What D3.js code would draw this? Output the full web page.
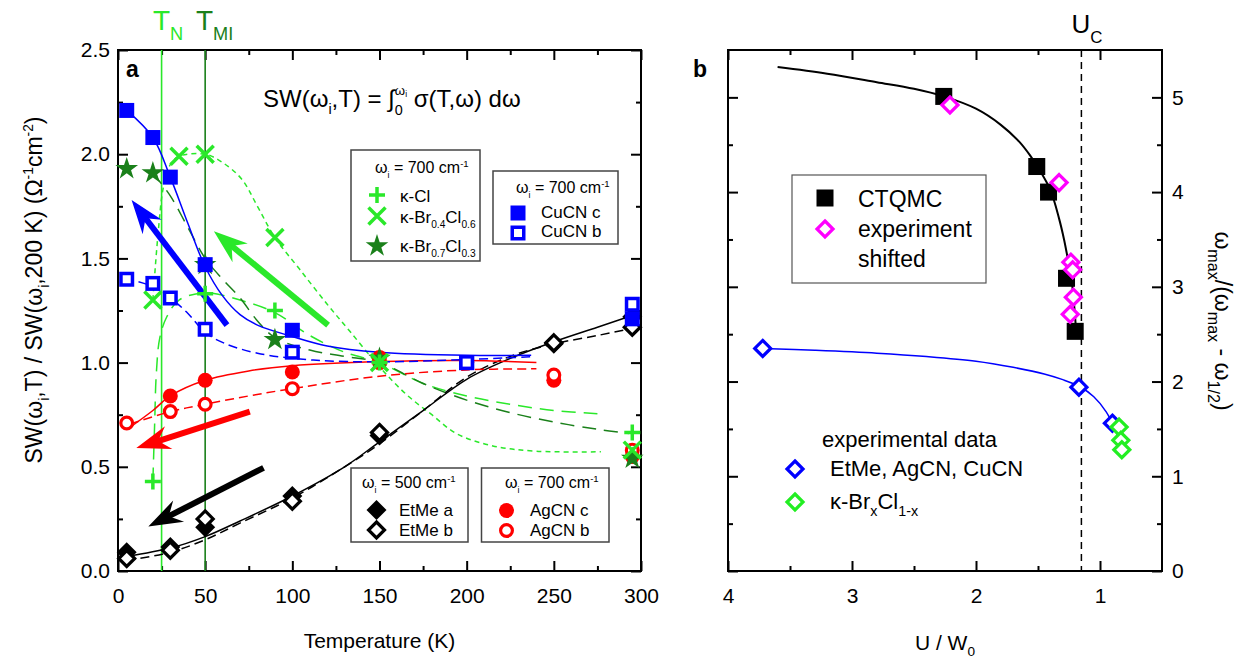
<!DOCTYPE html>
<html>
<head>
<meta charset="utf-8">
<script src="https://cdn.jsdelivr.net/npm/d3@7"></script>
<style>
  html, body { margin: 0; padding: 0; background: #fff; }
  svg { display: block; }
</style>
</head>
<body>
<svg id="chart" width="1247" height="664"></svg>
<script>
// ---------- panel a : spectral weight vs temperature ----------
const cuCNcT = [5, 20, 30, 50, 100, 200, 295];
const cuCNcSW = [2.21, 2.08, 1.89, 1.47, 1.155, 1.0, 1.21];
const cuCNbT = [5, 20, 30, 50, 100, 200, 295];
const cuCNbSW = [1.40, 1.38, 1.31, 1.16, 1.05, 1.0, 1.28];
const etMeAT = [5, 30, 50, 100, 150, 250, 295];
const etMeASW = [0.09, 0.115, 0.21, 0.36, 0.65, 1.09, 1.22];
const etMeBT = [5, 30, 50, 100, 150, 250, 295];
const etMeBSW = [0.06, 0.10, 0.25, 0.335, 0.665, 1.095, 1.17];
const agCNcT = [30, 50, 100, 150, 200, 250, 295];
const agCNcSW = [0.84, 0.915, 0.955, 1.025, 1.0, 0.915, 0.55];
const agCNbT = [5, 30, 50, 100, 150, 200, 250, 295];
const agCNbSW = [0.71, 0.765, 0.80, 0.875, 1.0, 1.0, 0.94, 0.58];
const kClT = [20, 50, 90, 150, 295];
const kClSW = [0.43, 1.33, 1.25, 1.0, 0.665];
const kBr04T = [20, 35, 50, 90, 150, 295];
const kBr04SW = [1.30, 1.99, 2.0, 1.6, 1.0, 0.58];
const kBr07T = [5, 20, 50, 90, 150, 295];
const kBr07SW = [1.93, 1.91, 1.47, 1.11, 1.02, 0.54];

// guide-to-the-eye curves, [T, SW]
const cuCNcFit = [[5,2.21],[20,2.08],[30,1.89],[40,1.67],[50,1.46],[60,1.32],[70,1.23],[80,1.18],[100,1.125],[120,1.08],[150,1.05],[200,1.035],[237,1.035]];
const cuCNbFit = [[4,1.405],[20,1.365],[30,1.31],[40,1.237],[50,1.145],[61,1.093],[80,1.045],[112,1.012],[153,1.004],[200,1.015],[237,1.028]];
const agCNcFit = [[7,0.69],[20,0.77],[30,0.84],[50,0.915],[75,0.96],[100,0.985],[150,1.005],[200,1.01],[240,1.0]];
const agCNbFit = [[7,0.705],[30,0.765],[50,0.8],[75,0.84],[100,0.875],[150,0.935],[200,0.965],[240,0.97]];
const etMeAFit = [[5,0.07],[30,0.11],[50,0.165],[70,0.24],[100,0.36],[130,0.5],[150,0.62],[175,0.77],[200,0.92],[225,1.02],[250,1.1],[275,1.17],[300,1.24]];
const etMeBFit = [[5,0.05],[30,0.09],[50,0.15],[70,0.23],[100,0.35],[130,0.5],[150,0.61],[175,0.77],[200,0.93],[225,1.03],[250,1.09],[275,1.13],[298,1.17]];
const kClFit = [[20,0.43],[21,0.7],[22,0.95],[24,1.12],[28,1.22],[35,1.3],[50,1.335],[70,1.3],[90,1.24],[110,1.13],[130,1.05],[150,1.0],[175,0.9],[200,0.84],[225,0.8],[250,0.77],[275,0.755]];
const kBr04Fit = [[20,1.3],[23,1.62],[26,1.84],[30,1.95],[35,1.99],[50,2.0],[60,1.96],[71,1.88],[80,1.75],[90,1.6],[104,1.45],[120,1.28],[133,1.15],[150,0.98],[165,0.85],[180,0.75],[194,0.66],[215,0.6],[240,0.575],[277,0.572]];
const kBr07Fit = [[20,1.91],[30,1.8],[40,1.65],[50,1.5],[60,1.4],[70,1.31],[80,1.2],[90,1.12],[110,1.06],[130,1.03],[150,1.0],[175,0.9],[200,0.82],[225,0.76],[250,0.715],[275,0.68],[293,0.66]];

const tN = 25, tMI = 50;

// thick arrows, [T, SW] tail -> head
const arrowFrom = [[62.5, 1.18], [120.5, 1.18], [75.6, 0.765], [83.5, 0.495]];
const arrowTo = [[7.8, 1.78], [55, 1.63], [10.5, 0.59], [17.4, 0.213]];

// ---------- panel b : omega ratio vs U/W0 ----------
const ctqmcU = [2.26, 1.51, 1.415, 1.27, 1.2];
const ctqmcR = [5.01, 4.27, 4.0, 3.09, 2.53];
const shiftedU = [2.21, 1.33, 1.235, 1.22, 1.215, 1.24];
const shiftedR = [4.92, 4.10, 3.26, 3.18, 2.89, 2.71];
const expU = [3.72, 1.17, 0.9];
const expR = [2.35, 1.94, 1.56];
const brClU = [0.846, 0.832, 0.824];
const brClR = [1.52, 1.38, 1.28];
const ctqmcFit = [[3.6,5.32],[3.2,5.25],[2.8,5.16],[2.5,5.09],[2.26,5.01],[2.0,4.88],[1.8,4.71],[1.65,4.53],[1.56,4.38],[1.5,4.26],[1.4,4.02],[1.33,3.72],[1.29,3.5],[1.26,3.3],[1.24,3.17],[1.22,2.97],[1.205,2.75],[1.195,2.58]];
const expFit = [[3.72,2.35],[3.3,2.33],[2.8,2.3],[2.4,2.265],[2.0,2.215],[1.7,2.15],[1.45,2.08],[1.3,2.02],[1.17,1.95],[1.05,1.84],[0.95,1.68],[0.88,1.5],[0.84,1.36],[0.815,1.23]];
const uC = 1.15;

// ---------- ticks ----------
const aXMajor = [0, 50, 100, 150, 200, 250, 300];
const aXMinor = [25, 75, 125, 175, 225, 275];
const aYMajor = [0, 0.5, 1.0, 1.5, 2.0, 2.5];
const aYMinor = [0.25, 0.75, 1.25, 1.75, 2.25];
const bXMajor = [4, 3, 2, 1];
const bXMinor = [3.5, 2.5, 1.5];
const bYMajor = [0, 1, 2, 3, 4, 5];
const bYMinor = [0.5, 1.5, 2.5, 3.5, 4.5];

const FONT = "Arial, 'Liberation Sans', sans-serif";
const BLUE = "#0000ff", RED = "#ff0000", LIME = "#2ae82a", DGREEN = "#1a801a", MAG = "#ff00ff";

const svg = d3.select("#chart").attr("font-family", FONT);

const aBox = {l: 118, r: 641, t: 50, b: 571};
const bBox = {l: 728, r: 1162, t: 50, b: 571};

const xA = d3.scaleLinear().domain([0, 300]).range([aBox.l, aBox.r]);
const yA = d3.scaleLinear().domain([0, 2.5]).range([aBox.b, aBox.t]);
const xB = d3.scaleLinear().domain([4, 0.5]).range([bBox.l, bBox.r]);
const yB = d3.scaleLinear().domain([0, 5.5]).range([bBox.b, bBox.t]);

// text with sub/superscripts: parts {t, o (baseline offset, em), s (size factor), dx}
function rich(sel, parts, size) {
  let cur = 0;
  parts.forEach(p => {
    const off = (p.o || 0) * size;
    const ts = sel.append("tspan")
      .attr("dy", off - cur)
      .attr("font-size", size * (p.s || 1))
      .text(p.t);
    if (p.dx) ts.attr("dx", p.dx);
    cur = off;
  });
  return sel;
}

function styleAxis(g) {
  g.attr("font-family", FONT).attr("font-size", 21);
  g.select(".domain").remove();
  g.selectAll(".tick line").attr("stroke", "#000").attr("stroke-width", 2);
  g.selectAll(".tick text").attr("fill", "#000");
}

function frame(box, x, y, xMaj, xMin, yMaj, yMin, yFmt, yOnRight) {
  const g = svg.append("g");
  const axes = [
    [d3.axisBottom, x, box.b, xMaj, xMin, true],
    [d3.axisTop, x, box.t, xMaj, xMin, false]
  ];
  axes.forEach(([fn, sc, pos, maj, min, lab]) => {
    g.append("g").attr("transform", `translate(0,${pos})`)
      .call(fn(sc).tickValues(min).tickSize(-5).tickFormat("")).call(styleAxis);
    g.append("g").attr("transform", `translate(0,${pos})`)
      .call(fn(sc).tickValues(maj).tickSize(-10).tickPadding(17)
        .tickFormat(lab ? d3.format("d") : "")).call(styleAxis);
  });
  [[d3.axisLeft, box.l, !yOnRight], [d3.axisRight, box.r, yOnRight]].forEach(([fn, pos, lab]) => {
    g.append("g").attr("transform", `translate(${pos},0)`)
      .call(fn(y).tickValues(yMin).tickSize(-5).tickFormat("")).call(styleAxis);
    g.append("g").attr("transform", `translate(${pos},0)`)
      .call(fn(y).tickValues(yMaj).tickSize(-10).tickPadding(yOnRight ? 10 : 8)
        .tickFormat(lab ? yFmt : "")).call(styleAxis);
  });
  g.append("rect")
    .attr("x", box.l).attr("y", box.t)
    .attr("width", box.r - box.l).attr("height", box.b - box.t)
    .attr("fill", "none").attr("stroke", "#000").attr("stroke-width", 2);
  return g;
}

// markers
function marker(g, kind, color, x, y, s) {
  const h = s / 2;
  if (kind === "sq") {
    g.append("rect").attr("x", x - h).attr("y", y - h).attr("width", s).attr("height", s).attr("fill", color);
  } else if (kind === "sqo") {
    g.append("rect").attr("x", x - h + 1.75).attr("y", y - h + 1.75).attr("width", s - 3.5).attr("height", s - 3.5)
      .attr("fill", "#fff").attr("stroke", color).attr("stroke-width", 3.5);
  } else if (kind === "ci") {
    g.append("circle").attr("cx", x).attr("cy", y).attr("r", h).attr("fill", color);
  } else if (kind === "cio") {
    g.append("circle").attr("cx", x).attr("cy", y).attr("r", h - 1.6)
      .attr("fill", "#fff").attr("stroke", color).attr("stroke-width", 3.2);
  } else if (kind === "di" || kind === "dio") {
    const p = `M${x},${y - h}L${x + h},${y}L${x},${y + h}L${x - h},${y}Z`;
    if (kind === "di") g.append("path").attr("d", p).attr("fill", color);
    else g.append("path").attr("d", `M${x},${y - h + 2}L${x + h - 2},${y}L${x},${y + h - 2}L${x - h + 2},${y}Z`)
      .attr("fill", "#fff").attr("stroke", color).attr("stroke-width", 3.2);
  } else if (kind === "plus") {
    g.append("path").attr("d", `M${x - h},${y}H${x + h}M${x},${y - h}V${y + h}`)
      .attr("stroke", color).attr("stroke-width", 3.5).attr("fill", "none");
  } else if (kind === "x") {
    g.append("path").attr("d", `M${x - h},${y - h}L${x + h},${y + h}M${x - h},${y + h}L${x + h},${y - h}`)
      .attr("stroke", color).attr("stroke-width", 3.5).attr("fill", "none");
  } else if (kind === "star") {
    g.append("path").attr("transform", `translate(${x},${y})`)
      .attr("d", d3.symbol(d3.symbolStar, s * s * 0.55)()).attr("fill", color);
  }
}

function series(g, X, Y, xs, ys, kind, color, s) {
  xs.forEach((v, i) => marker(g, kind, color, X(v), Y(ys[i]), s));
}

function curve(g, X, Y, pts, color, dash, w) {
  const line = d3.line().x(d => X(d[0])).y(d => Y(d[1])).curve(d3.curveCatmullRom.alpha(0.5));
  g.append("path").datum(pts).attr("d", line)
    .attr("fill", "none").attr("stroke", color).attr("stroke-width", w || 1.5)
    .attr("stroke-dasharray", dash || null);
}

function arrow(g, from, to, color) {
  const x0 = xA(from[0]), y0 = yA(from[1]), x1 = xA(to[0]), y1 = yA(to[1]);
  const len = Math.hypot(x1 - x0, y1 - y0);
  const ux = (x1 - x0) / len, uy = (y1 - y0) / len, nx = -uy, ny = ux;
  const L = 34, Wd = 12;
  g.append("line").attr("x1", x0).attr("y1", y0)
    .attr("x2", x1 - ux * (L - 12)).attr("y2", y1 - uy * (L - 12))
    .attr("stroke", color).attr("stroke-width", 6);
  const pts = [
    [x1, y1],
    [x1 - ux * L + nx * Wd, y1 - uy * L + ny * Wd],
    [x1 - ux * (L - 11), y1 - uy * (L - 11)],
    [x1 - ux * L - nx * Wd, y1 - uy * L - ny * Wd]
  ];
  g.append("path").attr("d", "M" + pts.map(p => p.join(",")).join("L") + "Z").attr("fill", color);
}

// ================= panel a =================
frame(aBox, xA, yA, aXMajor, aXMinor, aYMajor, aYMinor, d3.format(".1f"), false);
const ga = svg.append("g");

// transition lines
ga.append("line").attr("x1", xA(tN)).attr("x2", xA(tN)).attr("y1", aBox.t).attr("y2", aBox.b)
  .attr("stroke", LIME).attr("stroke-width", 1.6);
ga.append("line").attr("x1", xA(tMI)).attr("x2", xA(tMI)).attr("y1", aBox.t).attr("y2", aBox.b)
  .attr("stroke", DGREEN).attr("stroke-width", 1.6);

curve(ga, xA, yA, kClFit, LIME, "14,8");
curve(ga, xA, yA, kBr04Fit, LIME, "5,4");
curve(ga, xA, yA, kBr07Fit, DGREEN, "14,8");
curve(ga, xA, yA, etMeAFit, "#000");
curve(ga, xA, yA, etMeBFit, "#000", "9,5");
curve(ga, xA, yA, agCNcFit, RED);
curve(ga, xA, yA, agCNbFit, RED, "9,5");
curve(ga, xA, yA, cuCNcFit, BLUE);
curve(ga, xA, yA, cuCNbFit, BLUE, "9,5");

const arrowColor = [BLUE, LIME, RED, "#000"];
arrowFrom.forEach((f, i) => arrow(ga, f, arrowTo[i], arrowColor[i]));

series(ga, xA, yA, agCNcT, agCNcSW, "ci", RED, 15);
series(ga, xA, yA, agCNbT, agCNbSW, "cio", RED, 15);
series(ga, xA, yA, etMeAT, etMeASW, "di", "#000", 20);
series(ga, xA, yA, etMeBT, etMeBSW, "dio", "#000", 20);
series(ga, xA, yA, kBr07T, kBr07SW, "star", DGREEN, 17);
series(ga, xA, yA, kClT, kClSW, "plus", LIME, 16);
series(ga, xA, yA, kBr04T, kBr04SW, "x", LIME, 17);
series(ga, xA, yA, cuCNcT, cuCNcSW, "sq", BLUE, 15);
series(ga, xA, yA, cuCNbT, cuCNbSW, "sqo", BLUE, 15);

// labels of panel a
ga.append("text").attr("x", 126).attr("y", 77).attr("font-size", 23).attr("font-weight", "bold").text("a");
rich(ga.append("text").attr("x", 153).attr("y", 30).attr("fill", LIME),
  [{t: "T"}, {t: "N", o: 0.36, s: 0.65}], 28);
rich(ga.append("text").attr("x", 196).attr("y", 30).attr("fill", DGREEN),
  [{t: "T"}, {t: "MI", o: 0.36, s: 0.65}], 28);
rich(ga.append("text").attr("x", 263).attr("y", 107),
  [{t: "SW(ω"}, {t: "i", o: 0.3, s: 0.6}, {t: ",T) = ∫"}, {t: "0", o: 0.32, s: 0.6},
   {t: "ω", o: -0.5, s: 0.55, dx: -8}, {t: "i", o: -0.42, s: 0.35}, {t: " σ(T,ω) dω"}], 24);

rich(ga.append("text").attr("transform", "translate(42,290) rotate(-90)").attr("text-anchor", "middle"),
  [{t: "SW(ω"}, {t: "i", o: 0.3, s: 0.6}, {t: ",T) / SW(ω"}, {t: "i", o: 0.3, s: 0.6},
   {t: ",200 K) (Ω"}, {t: "-1", o: -0.4, s: 0.6}, {t: "cm"}, {t: "-2", o: -0.4, s: 0.6}, {t: ")"}], 23);
ga.append("text").attr("x", (aBox.l + aBox.r) / 2).attr("y", 648).attr("text-anchor", "middle")
  .attr("font-size", 21).text("Temperature (K)");

// legends of panel a
function box(g, x0, y0, x1, y1) {
  g.append("rect").attr("x", x0).attr("y", y0).attr("width", x1 - x0).attr("height", y1 - y0)
    .attr("fill", "#fff").attr("stroke", "#444").attr("stroke-width", 1.5);
}
function omegaHead(g, x, y, val) {
  rich(g.append("text").attr("x", x).attr("y", y),
    [{t: "ω"}, {t: "i", o: 0.3, s: 0.55}, {t: " = " + val + " cm"}, {t: "-1", o: -0.4, s: 0.6}], 16);
}
const LFS = 17;
box(ga, 351, 150, 480, 261);
omegaHead(ga, 375, 173, 700);
marker(ga, "plus", LIME, 377, 195, 16);
ga.append("text").attr("x", 400).attr("y", 202).attr("font-size", LFS).text("κ-Cl");
marker(ga, "x", LIME, 377, 216, 17);
rich(ga.append("text").attr("x", 400).attr("y", 223),
  [{t: "κ-Br"}, {t: "0.4", o: 0.3, s: 0.6}, {t: "Cl"}, {t: "0.6", o: 0.3, s: 0.6}], LFS);
marker(ga, "star", DGREEN, 377, 246, 17);
rich(ga.append("text").attr("x", 400).attr("y", 252),
  [{t: "κ-Br"}, {t: "0.7", o: 0.3, s: 0.6}, {t: "Cl"}, {t: "0.3", o: 0.3, s: 0.6}], LFS);

box(ga, 493, 171, 618, 244);
omegaHead(ga, 516, 193, 700);
marker(ga, "sq", BLUE, 518, 213, 15);
ga.append("text").attr("x", 541).attr("y", 218).attr("font-size", LFS).text("CuCN c");
marker(ga, "sqo", BLUE, 518, 233, 15);
ga.append("text").attr("x", 541).attr("y", 237).attr("font-size", LFS).text("CuCN b");

box(ga, 351, 468, 468, 542);
omegaHead(ga, 362, 488, 500);
marker(ga, "di", "#000", 376.5, 510, 20);
ga.append("text").attr("x", 399).attr("y", 516).attr("font-size", LFS).text("EtMe a");
marker(ga, "dio", "#000", 376.5, 530, 20);
ga.append("text").attr("x", 399).attr("y", 535.5).attr("font-size", LFS).text("EtMe b");

box(ga, 481.5, 468, 609, 542);
omegaHead(ga, 505, 488, 700);
marker(ga, "ci", RED, 506.5, 510.5, 15);
ga.append("text").attr("x", 530).attr("y", 516).attr("font-size", LFS).text("AgCN c");
marker(ga, "cio", RED, 506.5, 530.5, 15);
ga.append("text").attr("x", 530).attr("y", 535.5).attr("font-size", LFS).text("AgCN b");

// ================= panel b =================
frame(bBox, xB, yB, bXMajor, bXMinor, bYMajor, bYMinor, d3.format("d"), true);
const gb = svg.append("g");

gb.append("line").attr("x1", xB(uC)).attr("x2", xB(uC)).attr("y1", bBox.t).attr("y2", bBox.b)
  .attr("stroke", "#000").attr("stroke-width", 1.5).attr("stroke-dasharray", "7,5");
curve(gb, xB, yB, ctqmcFit, "#000", null, 2);
curve(gb, xB, yB, expFit, BLUE, null, 1.5);

series(gb, xB, yB, ctqmcU, ctqmcR, "sq", "#000", 17);
series(gb, xB, yB, shiftedU, shiftedR, "dio", MAG, 20);
series(gb, xB, yB, expU, expR, "dio", BLUE, 20);
series(gb, xB, yB, brClU, brClR, "dio", "#22ee22", 20);

gb.append("text").attr("x", 693).attr("y", 77).attr("font-size", 23).attr("font-weight", "bold").text("b");
rich(gb.append("text").attr("x", xB(uC) - 10).attr("y", 33),
  [{t: "U"}, {t: "C", o: 0.38, s: 0.65}], 26);
rich(gb.append("text").attr("x", (bBox.l + bBox.r) / 2).attr("y", 650).attr("text-anchor", "middle"),
  [{t: "U / W"}, {t: "0", o: 0.3, s: 0.65}], 21);
rich(gb.append("text").attr("transform", "translate(1215,321) rotate(90)").attr("text-anchor", "middle"),
  [{t: "ω"}, {t: "max", o: 0.3, s: 0.7}, {t: "/(ω"}, {t: "max", o: 0.3, s: 0.7},
   {t: " - ω"}, {t: "1/2", o: 0.3, s: 0.7}, {t: ")"}], 23);

// legend box of panel b
gb.append("rect").attr("x", 792).attr("y", 175).attr("width", 194).attr("height", 108)
  .attr("fill", "#fff").attr("stroke", "#555").attr("stroke-width", 1.2);
marker(gb, "sq", "#000", 825, 198, 17);
gb.append("text").attr("x", 858).attr("y", 207).attr("font-size", 23).text("CTQMC");
marker(gb, "dio", MAG, 825, 229, 20);
gb.append("text").attr("x", 858).attr("y", 237).attr("font-size", 23).text("experiment");
gb.append("text").attr("x", 858).attr("y", 267).attr("font-size", 23).text("shifted");

gb.append("text").attr("x", 822).attr("y", 447).attr("font-size", 22).text("experimental data");
marker(gb, "dio", BLUE, 795, 469, 20);
gb.append("text").attr("x", 830).attr("y", 476).attr("font-size", 22).text("EtMe, AgCN, CuCN");
marker(gb, "dio", "#22ee22", 795, 502, 20);
rich(gb.append("text").attr("x", 830).attr("y", 509),
  [{t: "κ-Br"}, {t: "x", o: 0.3, s: 0.65}, {t: "Cl"}, {t: "1-x", o: 0.3, s: 0.65}], 22);
</script>
</body>
</html>
